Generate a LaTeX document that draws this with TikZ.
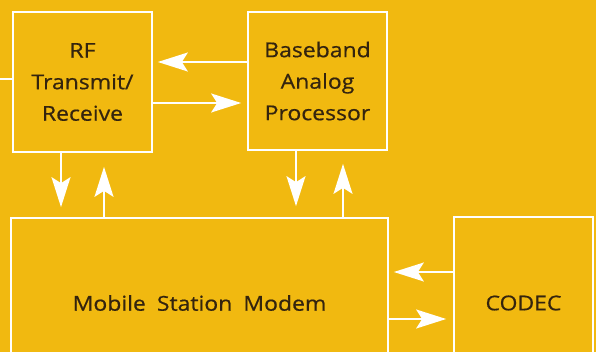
\documentclass[tikz,border=0pt]{standalone}
\usepackage{fontspec}
\setmainfont{Open Sans}[FakeStretch=1.12,FakeBold=0.6]
\usetikzlibrary{arrows.meta}
\definecolor{bg}{RGB}{241,185,16}
\definecolor{ink}{RGB}{52,36,14}
\begin{document}
\begin{tikzpicture}[x=1pt,y=-1pt,
  box/.style={draw=white, line width=1.7pt, inner sep=0pt, align=center,
    text=ink, font=\fontsize{20.5}{31.5}\selectfont},
  arr/.style={draw=white, line width=1.7pt,
    -{Stealth[length=30pt,width=19pt,inset=6pt,fill=white]}},
  link/.style={draw=white, line width=1.7pt}]
\fill[bg] (0,0) rectangle (596,352);
\useasboundingbox (0,0) rectangle (596,352);
\begin{scope}
\clip (0,0) rectangle (596,352);
\node[box, minimum width=139pt, minimum height=140pt] (rf) at (82.5,82) {RF\\Transmit/\\Receive};
\node[box, minimum width=139pt, minimum height=138pt] (bb) at (317.5,81) {Baseband\\Analog\\Processor};
\node[box, minimum width=377pt, minimum height=170pt] (modem) at (199.5,303) {Mobile\hspace{0.25em} Station\hspace{0.25em} Modem};
\node[box, minimum width=139pt, minimum height=172pt] (codec) at (523.5,303) {CODEC};
\coordinate (left) at (0,79);
\draw[link] (rf.west |- left) -- (left);
\draw[arr] (bb.west |- 0,62) -- ([xshift=5pt]rf.east |- 0,62);
\draw[arr] (rf.east |- 0,103) -- ([xshift=-6pt]bb.west |- 0,103);
\draw[arr] (61,0 |- rf.south) -- ([yshift=10pt]61,0 |- modem.north);
\draw[arr] (104,0 |- modem.north) -- ([yshift=-14pt]104,0 |- rf.south);
\draw[arr] (296,0 |- bb.south) -- ([yshift=11pt]296,0 |- modem.north);
\draw[arr] (343,0 |- modem.north) -- ([yshift=-13pt]343,0 |- bb.south);
\draw[arr] (codec.west |- 0,272) -- ([xshift=5pt]modem.east |- 0,272);
\draw[arr] (modem.east |- 0,319) -- ([xshift=-7pt]codec.west |- 0,319);
\end{scope}
\end{tikzpicture}
\end{document}
